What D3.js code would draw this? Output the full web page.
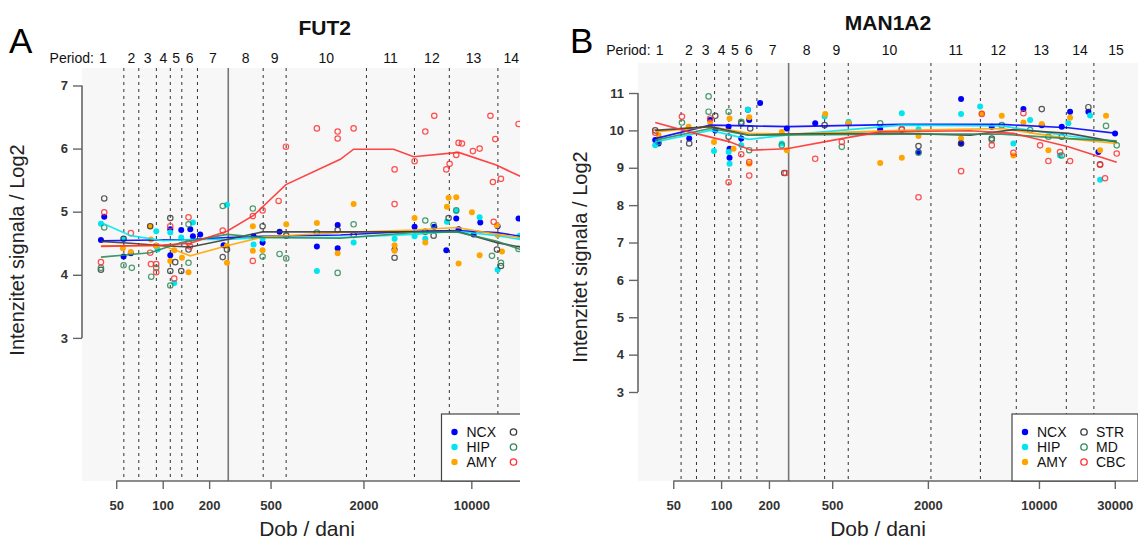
<!DOCTYPE html>
<html><head><meta charset="utf-8">
<script src="https://cdn.jsdelivr.net/npm/d3@7"></script>
<style>
body{margin:0;background:#fff}
svg{display:block}
text{font-family:"Liberation Sans",Arial,Helvetica,sans-serif}
</style>
</head><body>
<svg id="chart" width="1138" height="544"></svg>
<script>
// ---------- shared definitions ----------
const regions = ["NCX", "HIP", "AMY", "STR", "MD", "CBC"];
const regionColors = ["#0000ff", "#00e5ee", "#ffa500", "#3a3a3a", "#2e8b57", "#ff3030"];
const regionFilled = [true, true, true, false, false, false];
const periodLabels = ["1","2","3","4","5","6","7","8","9","10","11","12","13","14","15"];
const periodBreaks = [56, 70, 91, 112, 133, 168, 266, 448, 631, 2091, 4281, 7201, 14866, 22166];
const birthDay = 266;
const xDomain = [30, 42000];
const xTickValues = [50, 100, 200, 500, 2000, 10000, 30000];
const yTicksA = [3, 4, 5, 6, 7];
const yTicksB = [3, 4, 5, 6, 7, 8, 9, 10, 11];

// ---------- FUT2 (panel A): [age in days, log2 signal] ----------
const futNCX = [[39.8,4.55],[41.8,4.92],[55.8,4.29],[62.2,4.34],[90.8,4.46],[112,4.31],[112,4.72],[131.9,4.71],[151,4.72],[157,4.61],[175,4.64],[248,4.47],[388,4.61],[444,4.51],[572,4.68],[998,4.45],[1361,4.79],[1361,4.42],[3182,4.40],[4289,4.76],[5753,4.76],[6884,4.39],[7987,4.89],[8271,4.72],[10350,4.64],[11430,4.83],[14800,4.77],[20240,4.89]];
const futHIP = [[39.8,4.81],[55.8,4.57],[90.8,4.69],[92.7,4.40],[112,4.67],[118.8,3.87],[131.9,4.59],[157,4.83],[261,5.11],[388,4.48],[444,4.57],[998,4.06],[1727,4.51],[3182,4.57],[4289,4.61],[5031,4.57],[6953,4.84],[7987,5.01],[11320,4.91],[14800,4.08],[20550,4.62]];
const futAMY = [[55.2,4.42],[62.2,4.36],[83,4.77],[83.9,4.56],[90.8,4.46],[112,4.22],[118.8,4.39],[133.3,4.27],[147,4.04],[261,4.19],[261,4.46],[384,4.38],[384,4.77],[444,4.39],[632,4.80],[998,4.82],[1361,4.34],[1727,5.12],[3182,4.47],[3182,4.38],[4289,4.90],[5031,4.51],[6953,5.08],[7126,5.22],[7987,5.23],[8271,4.18],[10090,4.99],[11320,4.31],[14660,4.78],[14800,4.63],[15800,4.37]];
const futSTR = [[39.8,4.08],[41.8,5.21],[55.8,4.57],[83,4.77],[112,4.90],[112,4.06],[120.6,4.20],[131.9,4.06],[147,4.40],[245,4.28],[261,4.40],[444,4.77],[632,4.62],[1361,4.71],[1727,4.63],[3182,4.27],[5031,4.68],[5698,4.62],[7126,4.90],[14660,4.40],[15560,4.14]];
const futMD = [[39.8,4.11],[41.8,4.75],[55.8,4.15],[63.1,4.11],[84.3,3.97],[90.8,4.11],[112,3.83],[147,4.19],[147,4.80],[245,5.09],[384,5.05],[444,4.29],[572,4.33],[632,4.26],[998,4.67],[1361,4.03],[1727,4.80],[5031,4.86],[5698,4.79],[7987,5.02],[13610,4.30],[15560,4.19],[20240,4.41]];
const futCBC = [[39.8,4.20],[41.8,4.99],[62.2,4.66],[83,4.35],[83.9,4.17],[90.8,4.17],[90.8,4.04],[112,4.77],[118.8,3.94],[147,4.91],[147,4.51],[150,4.45],[245,4.70],[384,4.93],[384,4.22],[444,5.02],[564,5.17],[629,6.03],[998,6.32],[1361,6.27],[1361,6.16],[1727,6.32],[3182,5.67],[3182,5.12],[4289,5.80],[5031,6.27],[5753,6.52],[6884,5.67],[7234,5.76],[7987,5.90],[8271,6.09],[8693,6.08],[10240,5.96],[11320,6.00],[13300,6.52],[13800,5.47],[13960,4.84],[14300,6.15],[15560,5.52],[20240,6.39]];
// smoothed curves
const futNCXFit = [[39.8,4.54],[151,4.56],[261,4.59],[444,4.61],[1416,4.63],[4227,4.69],[8066,4.70],[14660,4.67],[20750,4.61]];
const futHIPFit = [[39.8,4.83],[62,4.62],[101,4.54],[151,4.56],[261,4.56],[444,4.59],[1416,4.59],[4227,4.64],[8066,4.69],[14660,4.62],[20750,4.56]];
const futAMYFit = [[39.8,4.46],[101,4.46],[151,4.30],[261,4.46],[444,4.60],[1416,4.67],[4227,4.71],[8066,4.75],[14660,4.64],[20750,4.59]];
const futSTRFit = [[39.8,4.53],[62,4.50],[101,4.46],[151,4.44],[261,4.56],[444,4.68],[1416,4.68],[4227,4.68],[8066,4.69],[14660,4.51],[20750,4.44]];
const futMDFit = [[39.8,4.28],[83,4.35],[132,4.51],[261,4.64],[444,4.59],[1416,4.58],[4227,4.67],[8066,4.68],[14660,4.53],[20750,4.40]];
const futCBCFit = [[39.8,4.45],[100,4.47],[151,4.50],[261,4.69],[388,4.94],[629,5.43],[1416,5.83],[1727,5.99],[3136,5.99],[4227,5.87],[8271,5.94],[14500,5.74],[20750,5.56]];

// ---------- MAN1A2 (panel B) ----------
const manNCX = [[38.5,9.74],[40.4,9.65],[63,9.78],[85.4,10.28],[91.9,10.0],[111.5,10.1],[113,9.27],[113,9.51],[133.9,9.78],[147.4,10.55],[150.3,10.28],[176,10.73],[259,10.05],[391,10.19],[634,10.19],[1002,10.03],[1746,9.42],[3236,10.84],[3236,9.65],[5049,10.1],[7985,10.57],[10414,10.14],[13913,10.1],[15700,10.5],[20470,10.5],[23660,9.42],[30120,9.92]];
const manHIP = [[38.5,9.6],[90.2,9.45],[111.5,9.42],[113,9.11],[133.9,9.6],[147.4,10.55],[241,9.65],[448,10.37],[634,10.23],[1371,10.46],[1746,10.03],[3236,10.44],[4264,10.64],[6909,9.65],[8799,10.28],[13580,9.33],[15316,10.19],[20970,10.4],[24240,8.68]];
const manAMY = [[40.4,9.87],[62.4,10.1],[85.4,10.21],[90.2,9.69],[113,10.32],[119.8,9.51],[150.3,10.35],[150.3,9.11],[241,9.96],[259,9.47],[452,10.44],[634,10.19],[1002,9.13],[1371,9.27],[1746,9.85],[3236,9.78],[4368,10.46],[5834,10.39],[6909,9.33],[7985,10.21],[10414,10.17],[11467,9.47],[15700,10.34],[24240,9.47],[26430,10.39]];
const manSTR = [[38.5,10.0],[63,9.65],[91.9,10.39],[111.5,9.83],[133.9,10.19],[152.5,10.05],[249.5,8.86],[448,10.14],[1371,10.03],[1746,9.58],[3236,9.65],[5049,9.78],[10414,10.57],[13913,9.83],[20470,10.62],[24240,9.09]];
const manMD = [[40.4,9.69],[56.7,10.21],[83.4,10.91],[83.4,10.5],[111.5,10.5],[133.9,10.23],[150.3,9.47],[241,9.6],[575,9.56],[1002,10.19],[1746,9.4],[5049,9.74],[5834,10.14],[8799,10.01],[11467,9.83],[13913,9.33],[26430,10.12],[30860,9.6]];
const manCBC = [[38.5,9.94],[56.7,10.37],[85.4,10.32],[111.5,8.61],[133.9,9.36],[150.3,9.15],[150.3,8.79],[255,8.86],[391,9.24],[575,9.69],[1371,10.03],[1746,8.21],[3236,8.91],[4368,10.44],[5049,9.6],[6909,9.4],[7985,10.46],[10165,9.6],[11467,9.18],[13580,9.42],[15700,9.18],[24240,9.08],[26050,8.72],[30860,9.38]];
const manNCXFit = [[38.5,9.78],[85.4,10.14],[150,10.12],[265,10.1],[1371,10.16],[5834,10.16],[15316,10.07],[30860,9.92]];
const manHIPFit = [[38.5,9.69],[85.4,10.0],[150,9.76],[265,9.88],[1371,10.14],[5834,10.12],[15316,9.85],[30860,9.69]];
const manAMYFit = [[38.5,9.96],[85.4,10.1],[150,9.92],[265,9.9],[1371,10.0],[5834,10.05],[15316,9.78],[30860,9.65]];
const manSTRFit = [[38.5,10.0],[85.4,10.1],[150,9.87],[265,9.9],[1371,9.92],[3700,9.87],[6909,10.02],[15316,9.92],[30860,9.69]];
const manMDFit = [[38.5,9.74],[85.4,10.05],[150,9.87],[265,9.88],[1371,9.9],[5834,9.9],[15316,9.78],[30860,9.72]];
const manCBCFit = [[38.5,10.21],[63,9.96],[112,9.7],[155,9.47],[259,9.51],[575,9.78],[1002,9.96],[3700,9.99],[6909,9.92],[15316,9.56],[30860,9.15]];

// ---------- layout ----------
const panels = [
  { id:"A", letter:"A", title:"FUT2", left:82, right:567.5, top:68, bottom:481, yDomain:[0.732,7.277],
    yTicks:yTicksA, clipLeft:0, clipRight:520, periodY:63, titleY:34.5, letterX:9,
    xTitleX:307, yTitleX:24, yTitleY:250,
    points:[futNCX,futHIP,futAMY,futSTR,futMD,futCBC],
    fits:[futNCXFit,futHIPFit,futAMYFit,futSTRFit,futMDFit,futCBCFit] },
  { id:"B", letter:"B", title:"MAN1A2", left:638, right:1138, top:63, bottom:481, yDomain:[0.619,11.803],
    yTicks:yTicksB, clipLeft:560, clipRight:1138, periodY:55, titleY:29.5, letterX:570,
    xTitleX:878, yTitleX:587, yTitleY:257,
    points:[manNCX,manHIP,manAMY,manSTR,manMD,manCBC],
    fits:[manNCXFit,manHIPFit,manAMYFit,manSTRFit,manMDFit,manCBCFit] }
];

const svg = d3.select("#chart");
const defs = svg.append("defs");

panels.forEach(p => {
  defs.append("clipPath").attr("id","clip"+p.id)
    .append("rect").attr("x", p.clipLeft).attr("y",0)
    .attr("width", p.clipRight - p.clipLeft).attr("height",544);

  const g = svg.append("g").attr("clip-path","url(#clip"+p.id+")");
  const x = d3.scaleLog().domain(xDomain).range([p.left, p.right]);
  const y = d3.scaleLinear().domain(p.yDomain).range([p.bottom, p.top]);

  // background
  g.append("rect").attr("x",p.left).attr("y",p.top)
    .attr("width",p.right-p.left).attr("height",p.bottom-p.top).attr("fill","#f7f7f7");

  // period boundaries
  g.selectAll(".pline").data(periodBreaks).enter().append("line")
    .attr("x1",d=>x(d)).attr("x2",d=>x(d)).attr("y1",p.top).attr("y2",p.bottom)
    .attr("stroke", d=> d===birthDay ? "#777" : "#333")
    .attr("stroke-width", d=> d===birthDay ? 1.6 : 1)
    .attr("stroke-dasharray", d=> d===birthDay ? null : "3,4");

  // period labels
  const edges = [xDomain[0]].concat(periodBreaks, [xDomain[1]]);
  const centers = periodLabels.map((l,i)=>Math.sqrt(edges[i]*edges[i+1]));
  g.selectAll(".plab").data(periodLabels).enter().append("text")
    .attr("x",(d,i)=>x(centers[i])).attr("y",p.periodY)
    .attr("text-anchor","middle").attr("font-size",14).attr("fill","#111").text(d=>d);
  g.append("text").attr("x", x(centers[0]) - 9).attr("y", p.periodY)
    .attr("text-anchor","end").attr("font-size",14).attr("fill","#111").text("Period:");

  // title & panel letter
  g.append("text").attr("x",(p.left+p.right)/2).attr("y",p.titleY)
    .attr("text-anchor","middle").attr("font-size",21).attr("font-weight","bold").attr("fill","#111").text(p.title);
  svg.append("text").attr("x",p.letterX).attr("y",53)
    .attr("font-size",35).attr("fill","#000").text(p.letter);

  // y axis
  const yAxis = d3.axisLeft(y).tickValues(p.yTicks).tickSize(9).tickPadding(5).tickFormat(d3.format("d"));
  const ya = g.append("g").attr("transform",`translate(${p.left},0)`).call(yAxis);
  ya.select(".domain").remove();
  ya.selectAll(".tick line").attr("stroke","#666").attr("stroke-width",1.4);
  ya.selectAll(".tick text").attr("font-size",13).attr("font-weight","bold").attr("fill","#333")
    .attr("font-family",'"Liberation Sans",Arial,sans-serif');
  g.append("line").attr("x1",p.left).attr("x2",p.left)
    .attr("y1",y(d3.min(p.yTicks))).attr("y2",y(d3.max(p.yTicks)))
    .attr("stroke","#666").attr("stroke-width",1.6);

  // x axis
  const xAxis = d3.axisBottom(x).tickValues(xTickValues).tickSize(8).tickPadding(12).tickFormat(d3.format("d"));
  const xa = g.append("g").attr("transform",`translate(0,${p.bottom})`).call(xAxis);
  xa.select(".domain").remove();
  xa.selectAll(".tick line").attr("stroke","#666").attr("stroke-width",1.4);
  xa.selectAll(".tick text").attr("font-size",13).attr("font-weight","bold").attr("fill","#333")
    .attr("font-family",'"Liberation Sans",Arial,sans-serif');
  g.append("line").attr("y1",p.bottom).attr("y2",p.bottom)
    .attr("x1",x(d3.min(xTickValues))).attr("x2",x(d3.max(xTickValues)))
    .attr("stroke","#666").attr("stroke-width",1.6);

  // axis titles
  g.append("text").attr("x",p.xTitleX).attr("y",536)
    .attr("text-anchor","middle").attr("font-size",21).attr("fill","#222").text("Dob / dani");
  g.append("text").attr("transform",`translate(${p.yTitleX},${p.yTitleY}) rotate(-90)`)
    .attr("text-anchor","middle").attr("font-size",20).attr("fill","#222").text("Intenzitet signala / Log2");

  // points
  regions.forEach((r,i)=>{
    g.append("g").selectAll("circle").data(p.points[i]).enter().append("circle")
      .attr("cx",d=>x(d[0])).attr("cy",d=>y(d[1]))
      .attr("r", regionFilled[i] ? 3 : 2.7)
      .attr("fill", regionFilled[i] ? regionColors[i] : "none")
      .attr("stroke", regionFilled[i] ? "none" : regionColors[i])
      .attr("stroke-width", 1.2)
      .attr("opacity", regionFilled[i] ? 1 : 0.85);
  });

  // smoothed lines
  const line = d3.line().x(d=>x(d[0])).y(d=>y(d[1]));
  regions.forEach((r,i)=>{
    g.append("path").datum(p.fits[i]).attr("d",line)
      .attr("fill","none").attr("stroke",regionColors[i]).attr("stroke-width",1.6)
      .attr("opacity",0.9);
  });

  // legend (bottom right of plot region)
  const lg = g.append("g");
  const lw = 126, lh = 67;
  const lx = p.right - lw, ly = p.bottom - lh;
  lg.append("rect").attr("x",lx).attr("y",ly).attr("width",lw).attr("height",lh)
    .attr("fill","#fff").attr("stroke","#444").attr("stroke-width",1.2);
  regions.forEach((r,i)=>{
    const col = Math.floor(i/3), row = i%3;
    const cx = lx + 13 + col*59, cy = ly + 18 + row*15;
    lg.append("circle").attr("cx",cx).attr("cy",cy).attr("r",3.2)
      .attr("fill", regionFilled[i] ? regionColors[i] : "none")
      .attr("stroke", regionFilled[i] ? "none" : regionColors[i]).attr("stroke-width",1.3);
    lg.append("text").attr("x",cx+12).attr("y",cy+5).attr("font-size",14).attr("fill","#111").text(r);
  });
});
</script>
</body></html>
